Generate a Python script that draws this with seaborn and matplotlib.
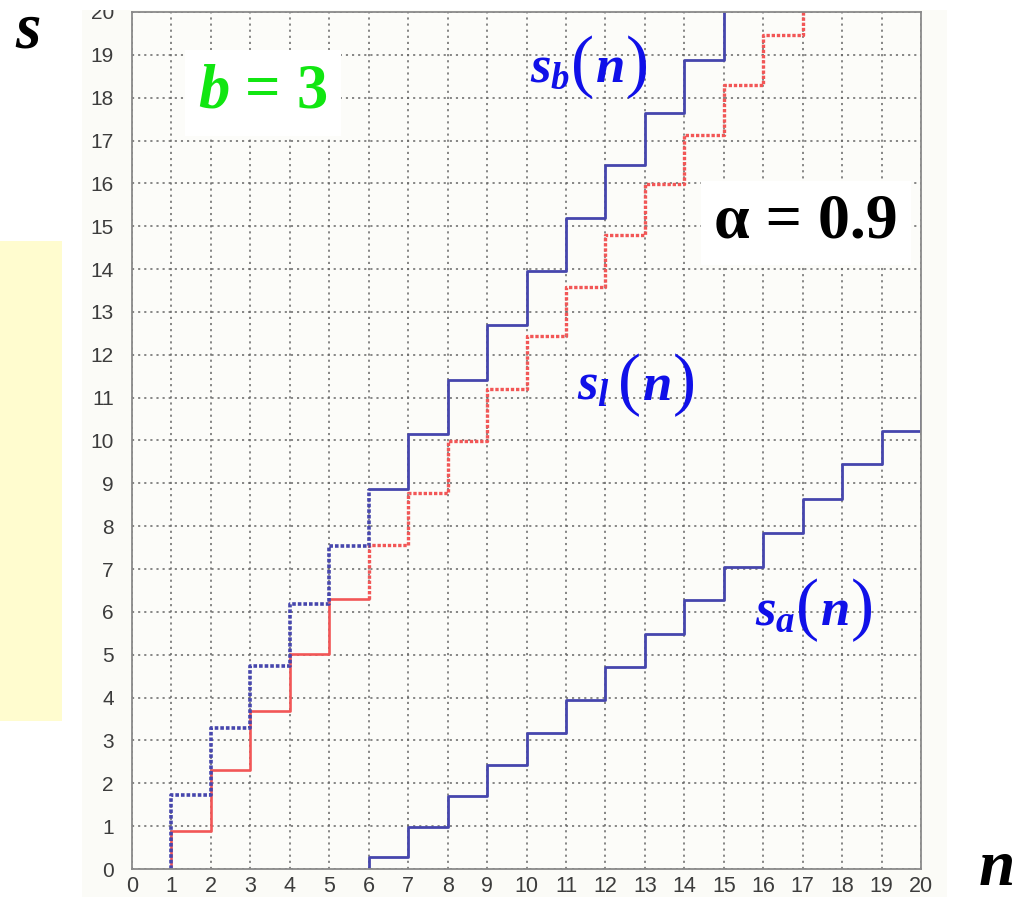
import matplotlib
matplotlib.use("Agg")
import matplotlib.pyplot as plt
import pandas as pd
import seaborn as sns
from matplotlib.patches import Rectangle

# ---- data -------------------------------------------------------------
ticks = list(range(0, 21))

# s_b(n): level held on [n, n+1)
n_b = [1, 2, 3, 4, 5, 6, 7, 8, 9, 10, 11, 12, 13, 14, 15]
s_b = [1.73, 3.30, 4.74, 6.18, 7.53, 8.87, 10.16, 11.42, 12.70, 13.96,
       15.20, 16.42, 17.65, 18.88, 20.10]

# s_l(n): level held on [n, n+1)
n_l = [1, 2, 3, 4, 5, 6, 7, 8, 9, 10, 11, 12, 13, 14, 15, 16, 17]
s_l = [0.89, 2.31, 3.68, 5.02, 6.30, 7.57, 8.77, 9.99, 11.21, 12.43,
       13.59, 14.80, 15.98, 17.13, 18.29, 19.47, 20.63]

# s_a(n): level held on [n, n+1)
n_a = [6, 7, 8, 9, 10, 11, 12, 13, 14, 15, 16, 17, 18, 19, 20]
s_a = [0.29, 0.99, 1.71, 2.43, 3.17, 3.94, 4.71, 5.48, 6.27, 7.05,
       7.84, 8.64, 9.45, 10.23, 11.07]

n_switch = 6  # where solid and dotted pieces trade places

BLUE = "#4646ad"
RED = "#f25656"
DOTS = (0, (1.0, 0.55))


def stair(ns, ss, lo, hi, start=None, hold_to=None):
    """Points for a post-step line over lo <= n <= hi."""
    xs, ys = [], []
    if start is not None:
        xs.append(lo)
        ys.append(start)
    for n, s in zip(ns, ss):
        if lo <= n <= hi:
            xs.append(n)
            ys.append(s)
    if hold_to is not None:
        xs.append(hold_to)
        ys.append(ys[-1])
    return pd.DataFrame({"n": xs, "s": ys})


sns.set_style("white")
plt.rcParams["mathtext.fontset"] = "custom"
plt.rcParams["mathtext.it"] = "Liberation Serif:italic:bold"
plt.rcParams["mathtext.rm"] = "Liberation Serif:bold"
plt.rcParams["mathtext.bf"] = "Liberation Serif:bold"
plt.rcParams["font.family"] = ["Liberation Sans", "DejaVu Sans"]

W, H = 1026, 897
fig = plt.figure(figsize=(W / 100, H / 100), dpi=100)
fig.patch.set_facecolor("white")


def fx(px):
    return px / W


def fy(py):
    return 1 - py / H


# panel behind the plot and the side note strip
fig.patches.append(Rectangle((fx(82), 0), fx(947) - fx(82), fy(10), transform=fig.transFigure,
                             facecolor="#fbfbf7", edgecolor="none", zorder=-10))
fig.patches.append(Rectangle((0, fy(721)), fx(62), fy(241) - fy(721), transform=fig.transFigure,
                             facecolor="#fffccf", edgecolor="none", zorder=-10))

ax = fig.add_axes([fx(132), fy(869), fx(921) - fx(132), fy(12) - fy(869)])
ax.set_facecolor("#fcfcf9")

line_kw = dict(x="n", y="s", estimator=None, sort=False, drawstyle="steps-post", ax=ax)

# s_l(n): solid up to n_switch, dotted afterwards
sns.lineplot(data=stair(n_l, s_l, 1, n_switch - 1, start=0, hold_to=n_switch),
             color=RED, linewidth=1.9, **line_kw)
sns.lineplot(data=stair(n_l, s_l, n_switch, 99, start=s_l[n_switch - 2]),
             color=RED, linewidth=2.4, linestyle=DOTS, **line_kw)

# s_b(n): dotted up to n_switch, solid afterwards
sns.lineplot(data=stair(n_b, s_b, 1, n_switch, start=0),
             color=BLUE, linewidth=2.6, linestyle=DOTS, **line_kw)
sns.lineplot(data=stair(n_b, s_b, n_switch, 99),
             color=BLUE, linewidth=2.0, **line_kw)

# s_a(n)
sns.lineplot(data=stair(n_a, s_a, n_a[0], 99, start=0),
             color=BLUE, linewidth=2.0, **line_kw)

ax.set_xlim(0, 20)
ax.set_ylim(0, 20)
ax.set_xticks(ticks)
ax.set_yticks(ticks)
ax.set_xlabel("")
ax.set_ylabel("")
ax.set_axisbelow(True)
ax.grid(True, color="#666666", linestyle=(0, (1.4, 2.6)), linewidth=1.1)
for side in ax.spines.values():
    side.set_color("#8a8a8a")
    side.set_linewidth(1.3)
ax.tick_params(axis="both", direction="in", length=8, width=1.3, color="#7a7a7a",
               labelcolor="#3c3c3c")
ax.tick_params(axis="x", labelsize=15.5, pad=5)
ax.tick_params(axis="y", labelsize=15, pad=13)

# axis letters (math text keeps the box tight around the glyph)
big = dict(color="black", fontsize=47, ha="center")
fig.text(fx(28), fy(1), r"$s$", va="top", **big)
fig.text(fx(996), fy(885), r"$n$", va="baseline", **big)

# parameter boxes
fig.text(fx(263), fy(108), r"$b$ = 3", family="Liberation Serif", weight="bold",
         color="#11e611", fontsize=45, ha="center", va="baseline",
         bbox=dict(boxstyle="square,pad=0.22", facecolor="white", edgecolor="none"))
fig.text(fx(806), fy(238), "α = 0.9", family="Liberation Serif", weight="bold",
         color="black", fontsize=46, ha="center", va="baseline",
         bbox=dict(boxstyle="square,pad=0.2", facecolor="white", edgecolor="none"))

# curve names: s with subscript, then a large upright (n)
NAME = "#1010e8"


def curve_name(x0, base, sub):
    fig.text(fx(x0), fy(base), r"$s_{%s}$" % sub, color=NAME, fontsize=38,
             ha="left", va="baseline")
    paren = dict(family="Liberation Serif", color=NAME, fontsize=50, ha="center",
                 va="baseline")
    fig.text(fx(x0 + 53), fy(base + 2), "(", **paren)
    fig.text(fx(x0 + 81), fy(base), "n", family="Liberation Serif", style="italic",
             weight="bold", color=NAME, fontsize=38, ha="center", va="baseline")
    fig.text(fx(x0 + 107), fy(base + 2), ")", **paren)


curve_name(530, 82, "b")
curve_name(577, 400, "l")
curve_name(755, 625, "a")

# trim the very top edge of the plot panel
fig.patches.append(Rectangle((fx(82), fy(10)), fx(947) - fx(82), 1 - fy(10),
                             transform=fig.transFigure, facecolor="white",
                             edgecolor="none", zorder=10))

fig.savefig("out.png", dpi=100)
